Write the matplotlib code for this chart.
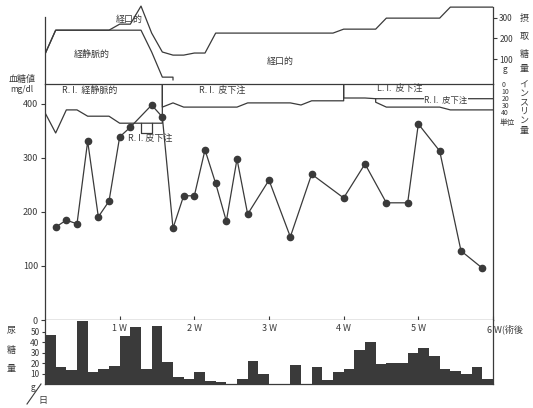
import numpy as np
import matplotlib
matplotlib.use("Agg")
import matplotlib.pyplot as plt
from matplotlib.lines import Line2D

plt.rcParams['font.family'] = ['Noto Sans CJK JP', 'DejaVu Sans']

W, H = 533, 408
INK = '#3a3a3a'

# ---------------------------------------------------------------
# data (x in days from start, 6 weeks = 42 days)
# ---------------------------------------------------------------
# blood sugar, mg/dl
bs_days = [1, 2, 3, 4, 5, 6, 7, 8, 10, 11, 12, 13, 14, 15, 16, 17, 18, 19,
           21, 23, 25, 28, 30, 32, 34, 35, 37, 39, 41]
bs_values = [172, 185, 178, 331, 191, 220, 339, 357, 398, 376, 170, 230, 230,
             315, 253, 183, 298, 196, 259, 154, 270, 226, 289, 217, 217, 363,
             313, 128, 96]

# urine sugar, g/day (days 0..41)
urine_sugar = [47, 16, 13, 60, 11, 14, 17, 46, 54, 14, 55, 21, 7, 5, 11, 3, 2,
               0, 5, 22, 10, 0, 0, 18, 0, 16, 4, 11, 14, 32, 40, 19, 20, 20,
               30, 34, 27, 14, 12, 10, 16, 5]

# carbohydrate intake, g (total = iv + oral), days 0..41
carb_total = [124, 239, 239, 239, 239, 239, 239, 268, 268, 355, 225, 134, 119,
              119, 129, 129, 225, 225, 225, 225, 225, 225, 225, 225, 225, 225,
              225, 225, 244, 244, 244, 244, 297, 297, 297, 297, 297, 297, 350,
              350, 350, 350]
# intravenous part, days 0..11
carb_iv = [124, 239, 239, 239, 239, 239, 239, 239, 239, 239, 134, 13]

# insulin, units
ri_iv = [41, 70, 37, 37, 46, 46, 46, 56, 56, 56, 56]          # days 0..10
ri_sc_start = 11
ri_sc = [33, 27, 33, 33, 33, 33, 33, 33, 27, 27, 27, 27, 27, 30, 24, 24, 24]
ri_sc_extra_days = [9, 10]
ri_sc_extra = 70
li_start = 28
li_sc = [20, 20, 20, 21, 21, 21, 21, 21, 21, 21, 21, 21, 21, 21]
li_ri_start = 31
li_ri = [26, 33, 33, 33, 33, 33, 33, 37, 37, 37, 37]

weeks = [1, 2, 3, 4, 5, 6]


def px(x, y):
    return x / W, 1 - y / H


def frac(x0, y0, x1, y1):
    return [x0 / W, 1 - y1 / H, (x1 - x0) / W, (y1 - y0) / H]


def step_xy(start, vals, head=None, tail=None):
    x = list(np.arange(start, start + len(vals) + 1))
    y = list(vals) + [vals[-1]]
    if head is not None:
        x = [start] + x
        y = [head] + y
    if tail is not None:
        x = x + [x[-1]]
        y = y + [tail]
    return x, y


fig = plt.figure(figsize=(W / 100, H / 100), dpi=100)

X0, X1 = 45, 493
ax_c = fig.add_axes(frac(X0, 4, X1, 84))
ax_g = fig.add_axes(frac(X0, 84, X1, 320))
ax_i = fig.add_axes(frac(X0, 84, X1, 154))
ax_b = fig.add_axes(frac(X0, 320, X1, 384))

for ax in (ax_c, ax_g, ax_i, ax_b):
    ax.set_xlim(0, 42)
    for s in ax.spines.values():
        s.set_linewidth(0.9)
        s.set_color(INK)
    ax.tick_params(colors=INK, labelsize=6.5, width=0.8)

# carbohydrate intake
ax_c.set_ylim(-20, 365)
ax_c.patch.set_visible(False)
ax_c.spines['top'].set_visible(False)
ax_c.spines['bottom'].set_visible(False)
ax_c.spines['left'].set_bounds(-20, 302)
ax_c.spines['right'].set_bounds(-20, 352)
ax_c.set_xticks([])
ax_c.set_yticks([100, 200, 300])
ax_c.tick_params(axis='y', left=False, right=True, labelleft=False,
                 labelright=True, length=3, pad=1.5, labelsize=6)
x, y = step_xy(0, carb_total)
ax_c.plot(x, y, color=INK, lw=0.9)
x, y = step_xy(0, carb_iv, tail=0)
ax_c.plot(x, y, color=INK, lw=0.9)

# blood sugar
ax_g.set_ylim(0, 437)
ax_g.set_yticks([0, 100, 200, 300, 400])
ax_g.set_xticks([7 * w for w in weeks])
ax_g.tick_params(axis='x', direction='in', length=3, labelbottom=False)
ax_g.tick_params(axis='y', length=3, pad=2)
ax_g.plot(bs_days, bs_values, '-o', color=INK, lw=0.9, ms=4.5, mfc=INK,
          mec=INK, zorder=3)

# insulin
ax_i.set_ylim(100, 0)
ax_i.patch.set_visible(False)
for s in ax_i.spines.values():
    s.set_visible(False)
ax_i.set_xticks([])
ax_i.set_yticks([0, 10, 20, 30, 40])
ax_i.tick_params(axis='y', left=False, right=False, labelleft=False,
                 labelright=True, length=0, pad=6, labelsize=5)
x, y = step_xy(0, ri_iv, tail=0)
ax_i.plot(x, y, color=INK, lw=0.9)
x, y = step_xy(ri_sc_start, ri_sc, head=0, tail=0)
ax_i.plot(x, y, color=INK, lw=0.9)
x, y = step_xy(li_start, li_sc, head=0)
ax_i.plot(x, y, color=INK, lw=0.9)
x, y = step_xy(li_ri_start, li_ri, head=li_sc[li_ri_start - li_start])
ax_i.plot(x, y, color=INK, lw=0.9)
d0, d1 = ri_sc_extra_days
base = ri_iv[d0]
ax_i.plot([d0, d0, d1, d1], [base, ri_sc_extra, ri_sc_extra, base],
          color=INK, lw=0.9)

# urine sugar
ax_b.set_ylim(0, 61)
ax_b.spines['top'].set_visible(False)
ax_b.set_xticks([])
ax_b.set_yticks([10, 20, 30, 40, 50])
ax_b.tick_params(axis='y', length=2, pad=2, labelsize=6)
ax_b.bar(np.arange(len(urine_sugar)), urine_sugar, width=1, align='edge',
         color=INK, lw=0)
tr = ax_b.get_xaxis_transform()
for w in weeks[:-1]:
    ax_b.text(7 * w, 0.86, f"{w} W", transform=tr, ha='center', va='center',
              fontsize=6.5, color=INK)
ax_b.text(7 * weeks[-1] - 0.6, 0.86, f"{weeks[-1]} W(術後", transform=tr,
          ha='left', va='center', fontsize=6.5, color=INK, clip_on=False)

# region labels
kw = dict(fontsize=6.5, color=INK, ha='center', va='center')
fig.text(*px(129, 19), "経口的", **kw)
fig.text(*px(92, 54), "経静脈的", **kw)
fig.text(*px(280, 61), "経口的", **kw)
fig.text(*px(90, 90), "R. I.  経静脈的", **kw)
fig.text(*px(222, 90), "R. I.  皮下注", **kw)
fig.text(*px(400, 88), "L. I.  皮下注", **kw)
fig.text(*px(446, 100), "R. I.  皮下注", fontsize=6, color=INK, ha='center',
         va='center', bbox=dict(fc='white', ec='none', pad=0.4))
fig.text(*px(150, 138), "R. I. 皮下注", **kw)

# axis captions, left
fig.text(*px(22, 79), "血糖値", **kw)
fig.text(*px(22, 90), "mg/dl", fontsize=6, color=INK, ha='center',
         va='center')
for ch, yy in zip("尿糖量", [330, 350, 369]):
    fig.text(*px(11, yy), ch, **kw)
fig.text(*px(33, 388), "g", fontsize=6, color=INK, ha='center', va='center')
fig.text(*px(43, 400), "日", fontsize=6.5, color=INK, ha='center',
         va='center')
fig.add_artist(Line2D([27 / W, 41 / W], [1 - 404 / H, 1 - 384 / H],
                      color=INK, lw=0.8))

# axis captions, right
fig.text(*px(505, 70), "g", fontsize=6, color=INK, ha='center', va='center')
for ch, yy in zip("摂取糖量", [18, 37, 54, 69]):
    fig.text(*px(524, yy), ch, **kw)
for ch, yy in zip("インスリン量", [84, 93, 102, 111, 120, 130]):
    fig.text(*px(524, yy), ch, **kw)
fig.text(*px(507, 123), "単位", fontsize=5.5, color=INK, ha='center',
         va='center')

fig.savefig("out.png", dpi=100)
